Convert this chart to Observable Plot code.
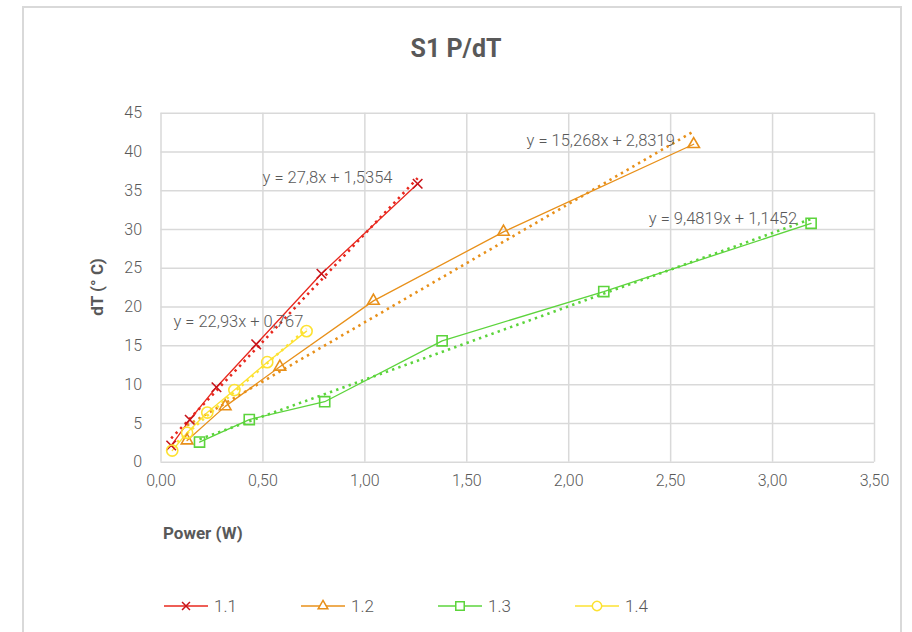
<!DOCTYPE html>
<html>
<head>
<meta charset="utf-8">
<script src="https://cdn.jsdelivr.net/npm/d3@7"></script>
<script src="https://cdn.jsdelivr.net/npm/@observablehq/plot@0.6"></script>
<style>
  html, body { margin: 0; padding: 0; background: #fff; }
  #wrap { position: relative; width: 912px; height: 632px; overflow: hidden; font-family: Roboto, "Liberation Sans", sans-serif; color: #595959; }
  #border { position: absolute; left: 22px; top: 6px; width: 880px; height: 660px; border: 2px solid #d9d9d9; box-sizing: border-box; }
  #chart { position: absolute; left: 0; top: 0; }
  .title { position: absolute; left: 0; width: 912px; top: 34px; text-align: center; font-weight: 700; font-size: 25px; color: #595959; }
  .ytitle { position: absolute; left: 97px; top: 287px; transform: translate(-50%, -50%) rotate(-90deg); font-weight: 700; font-size: 17px; white-space: nowrap; }
  .xtitle { position: absolute; left: 163px; top: 523px; font-weight: 700; font-size: 17px; }
  #legend { position: absolute; left: 0; top: 594px; }
  .leg { position: absolute; top: 0; height: 24px; display: flex; align-items: center; font-size: 17px; font-weight: 300; white-space: nowrap; }
  .leg svg { display: block; margin-right: 5px; }
</style>
</head>
<body>
<div id="wrap">
  <div id="border"></div>
  <div id="chart"></div>
  <div class="title">S1 P/dT</div>
  <div class="ytitle">dT (° C)</div>
  <div class="xtitle">Power (W)</div>
  <div id="legend"></div>
</div>
<script>
// ---- data ----
const seriesNames = ["1.1", "1.2", "1.3", "1.4"];
const power11 = [0.050, 0.141, 0.272, 0.467, 0.787, 1.259];
const dT11    = [2.15, 5.47, 9.67, 15.2, 24.3, 35.9];
const power12 = [0.128, 0.315, 0.583, 1.042, 1.680, 2.613];
const dT12    = [2.8, 7.2, 12.3, 20.8, 29.7, 41.0];
const power13 = [0.189, 0.433, 0.803, 1.379, 2.172, 3.189];
const dT13    = [2.6, 5.5, 7.8, 15.65, 22.0, 30.8];
const power14 = [0.055, 0.128, 0.227, 0.360, 0.521, 0.714];
const dT14    = [1.5, 3.8, 6.4, 9.3, 12.9, 16.9];
const xTicks = [0, 0.5, 1, 1.5, 2, 2.5, 3, 3.5];
const yTicks = [0, 5, 10, 15, 20, 25, 30, 35, 40, 45];
const trendLabels = ["y = 27,8x + 1,5354", "y = 15,268x + 2,8319", "y = 9,4819x + 1,1452", "y = 22,93x + 0,767"];
const labelX = [0.498, 1.793, 2.393, 0.061];
const labelY = [36.7, 41.5, 31.4, 18.1];

// ---- styles ----
const lineColors = ["#e8281e", "#e8901a", "#5cd43c", "#fde232"];
const markColors = ["#c8141a", "#e8901a", "#5cd43c", "#fde232"];
const symbols = ["times", "triangle", "square", "circle"];
const radii = [4.4, 4.3, 5.7, 5.6];

const powers = [power11, power12, power13, power14];
const dTs = [dT11, dT12, dT13, dT14];
const data = seriesNames.flatMap((s, i) => powers[i].map((p, j) => ({s, x: p, y: dTs[i][j]})));
const labels = trendLabels.map((t, i) => ({t, x: labelX[i], y: labelY[i]}));

const fmtX = d => d.toFixed(2).replace(".", ",");
const gridStyle = {stroke: "#d9d9d9", strokeOpacity: 1, strokeWidth: 1.5};

const marks = [
  Plot.gridX(xTicks, {...gridStyle}),
  Plot.gridY(yTicks, {...gridStyle}),
  Plot.axisX(xTicks, {tickSize: 0, tickPadding: 12, tickFormat: fmtX, fontSize: 16, fontWeight: 300, fill: "#595959", label: null}),
  Plot.axisY(yTicks, {tickSize: 0, tickPadding: 19, fontSize: 16, fontWeight: 300, fill: "#595959", label: null}),
  Plot.linearRegressionY(data, {x: "x", y: "y", stroke: "s", ci: 0, strokeWidth: 2.6, strokeDasharray: "2.4,4.2", strokeLinecap: "butt"}),
  Plot.line(data, {x: "x", y: "y", stroke: "s", z: "s", strokeWidth: 1.3}),
];
seriesNames.forEach((s, i) => {
  marks.push(Plot.dot(data.filter(d => d.s === s), {x: "x", y: "y", symbol: () => symbols[i], r: radii[i], stroke: markColors[i], strokeWidth: 1.6, fill: "none"}));
});
marks.push(Plot.text(labels, {x: "x", y: "y", text: "t", textAnchor: "start", fontSize: 16.5, fontWeight: 300, fill: "#595959"}));

const chart = Plot.plot({
  width: 912,
  height: 632,
  marginLeft: 160.5,
  marginRight: 38,
  marginTop: 112.7,
  marginBottom: 170.3,
  style: {fontFamily: "Roboto, 'Liberation Sans', sans-serif", background: "transparent", color: "#595959"},
  x: {domain: [0, 3.5], label: null},
  y: {domain: [0, 45], label: null},
  color: {domain: seriesNames, range: lineColors},
  symbol: {domain: symbols, range: symbols},
  marks
});
document.getElementById("chart").appendChild(chart);

// ---- legend ----
const legend = document.getElementById("legend");
const legLeft = [163, 300, 437, 574];
seriesNames.forEach((s, i) => {
  const item = document.createElement("div");
  item.className = "leg";
  item.style.left = legLeft[i] + "px";
  const sym = d3.symbol(d3["symbol" + symbols[i][0].toUpperCase() + symbols[i].slice(1)], Math.PI * radii[i] * radii[i] * 0.7)();
  item.innerHTML = `<svg width="46" height="24"><line x1="1" x2="45" y1="12" y2="12" stroke="${lineColors[i]}" stroke-width="1.4"/>` +
    `<path d="${sym}" transform="translate(23,12)" fill="white" stroke="${markColors[i]}" stroke-width="1.5"/></svg><span>${s}</span>`;
  legend.appendChild(item);
});
</script>
</body>
</html>
